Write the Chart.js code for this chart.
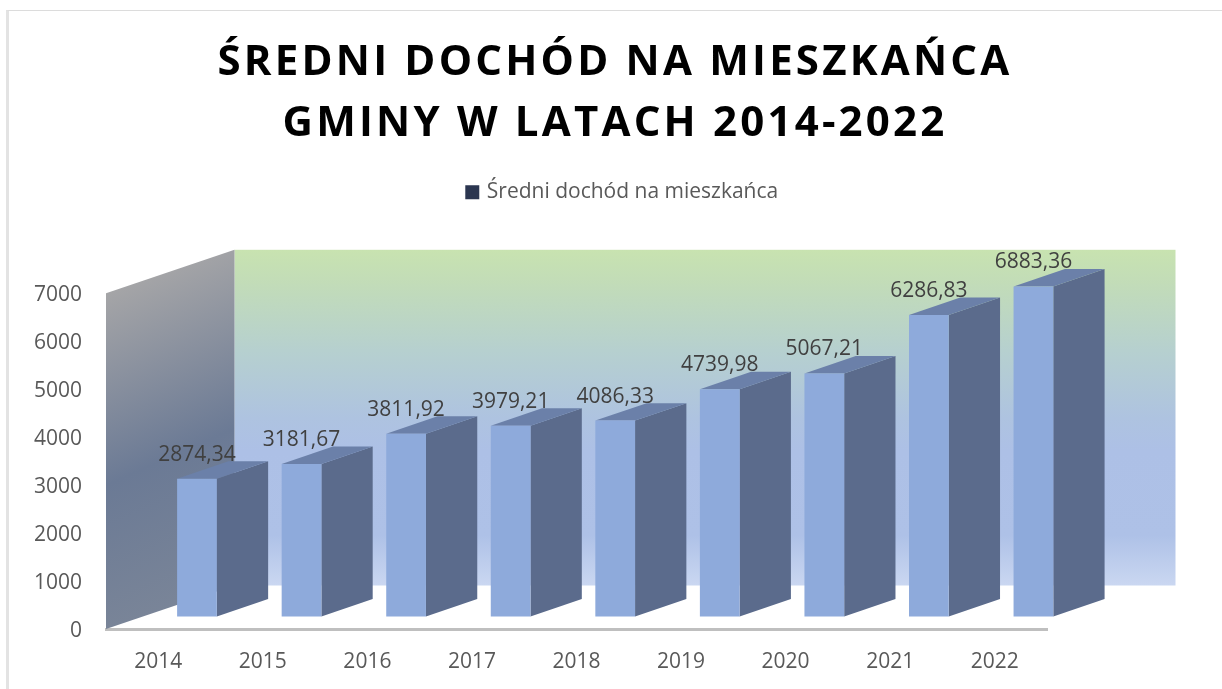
<!DOCTYPE html>
<html><head><meta charset="utf-8">
<style>html,body{margin:0;padding:0;background:#fff}
#f{position:absolute;left:6px;top:10px;right:0;bottom:0;border-left:3px solid #e3e3e3;border-top:1px solid #dcdcdc}
#w{position:absolute;left:0;top:0;width:1222px;height:689px}</style>
<script src="https://cdn.jsdelivr.net/npm/chart.js@4"></script></head>
<body><div id="f"></div><div id="w"><canvas id="c" width="1222" height="689"></canvas></div>
<script>
const categories = ['2014','2015','2016','2017','2018','2019','2020','2021','2022'];
const seriesName = 'Średni dochód na mieszkańca';
const seriesValues = [2874.34,3181.67,3811.92,3979.21,4086.33,4739.98,5067.21,6286.83,6883.36];
const valueLabels = ['2874,34','3181,67','3811,92','3979,21','4086,33','4739,98','5067,21','6286,83','6883,36'];
const titleLines = ['ŚREDNI DOCHÓD NA MIESZKAŃCA','GMINY W LATACH 2014-2022'];
const yTicks = [0,1000,2000,3000,4000,5000,6000,7000];

const FRONT='#8eaadb', SIDE='#5b6b8c', TOP='#6b80a9', LEGEND='#2b3650';
const BAR_DX=38.7, BAR_DY=-12.5, DEPTH_X=51.3, DEPTH_Y=-17.4, WALL_X=128.5, WALL_Y=-43.5;
const FONT='"Open Sans"';

const threeD={
  id:'threeD',
  beforeLayout(chart){
    const lg=chart.legend;
    if(lg&&!lg._tall){
      lg._tall=true;const o=lg.fit;
      lg.fit=function(){o.call(lg);lg.height+=80.5;};
    }
  },
  afterLayout(chart){
    const t=chart.titleBlock;
    t.left=8;t.right=1222;
    const lg=chart.legend;
    lg.left=24.5;lg.right=1222;
    if(!t._spaced){
      t._spaced=true;const o=t.draw;
      t.draw=function(){chart.ctx.letterSpacing='3.2px';o.call(t);chart.ctx.letterSpacing='0px';};
      const y=chart.scales.y, d=y.drawLabels;
      y.drawLabels=function(a){chart.ctx.save();chart.ctx.translate(0,2);d.call(y,a);chart.ctx.restore();};
    }
  },
  beforeDatasetsDraw(chart){
    const {ctx,chartArea:a}=chart;
    ctx.save();
    const bx=a.left+WALL_X, by=a.top+WALL_Y, bb=a.bottom+WALL_Y;
    let g=ctx.createLinearGradient(0,by,0,bb);
    g.addColorStop(0,'#c8e3b0');g.addColorStop(0.1,'#c2dcb8');g.addColorStop(0.3,'#b6d0cf');
    g.addColorStop(0.5,'#aec3e0');g.addColorStop(0.6,'#adc0e6');g.addColorStop(0.85,'#aec1e7');g.addColorStop(1,'#cad7f1');
    ctx.fillStyle=g;ctx.fillRect(bx,by,a.right-a.left,a.bottom-a.top);
    g=ctx.createLinearGradient(a.left,a.top,a.left+WALL_X,a.bottom+WALL_Y);
    g.addColorStop(0,'#a5a5a7');g.addColorStop(0.55,'#6b7a95');g.addColorStop(1,'#7a8598');
    ctx.fillStyle=g;ctx.beginPath();
    ctx.moveTo(a.left,a.top);ctx.lineTo(bx,by);ctx.lineTo(bx,bb);ctx.lineTo(a.left,a.bottom);ctx.closePath();ctx.fill();
    const meta=chart.getDatasetMeta(0);
    meta.data.forEach(b=>{
      const p=b.getProps(['x','y','base','width'],true);
      const r=p.x+p.width/2+BAR_DX, l=p.x-p.width/2+BAR_DX, t=p.y+BAR_DY, bt=p.base+BAR_DY;
      ctx.fillStyle=SIDE;ctx.beginPath();
      ctx.moveTo(r,t);ctx.lineTo(r+DEPTH_X,t+DEPTH_Y);ctx.lineTo(r+DEPTH_X,bt+DEPTH_Y);ctx.lineTo(r,bt);ctx.closePath();ctx.fill();
      ctx.fillStyle=TOP;ctx.beginPath();
      ctx.moveTo(l,t);ctx.lineTo(l+DEPTH_X,t+DEPTH_Y);ctx.lineTo(r+DEPTH_X,t+DEPTH_Y);ctx.lineTo(r,t);ctx.closePath();ctx.fill();
    });
    ctx.restore();
    ctx.save();ctx.translate(BAR_DX,BAR_DY);
  },
  afterDatasetsDraw(chart){
    const {ctx}=chart;
    ctx.restore();
    ctx.save();
    ctx.font='21px '+FONT;ctx.fillStyle='#404040';ctx.textAlign='center';ctx.textBaseline='alphabetic';
    chart.getDatasetMeta(0).data.forEach((b,i)=>{
      const p=b.getProps(['x','y'],true);
      ctx.fillText(valueLabels[i],p.x+BAR_DX,p.y+BAR_DY-18);
    });
    ctx.restore();
  }
};

new Chart(document.getElementById('c'),{
  type:'bar',
  data:{labels:categories,datasets:[{label:seriesName,data:seriesValues,backgroundColor:FRONT,barPercentage:0.38,categoryPercentage:1,clip:false}]},
  plugins:[threeD],
  options:{
    responsive:false,animation:false,
    layout:{padding:{left:30,right:175,top:33,bottom:0}},
    plugins:{
      title:{display:true,text:titleLines,color:'#000',font:{family:FONT,size:42,weight:'bold',lineHeight:1.45},padding:{top:0,bottom:17}},
      legend:{position:'top',labels:{color:'#595959',font:{family:FONT,size:21},boxWidth:8,boxHeight:8,padding:10,
        generateLabels(){return [{text:seriesName,fontColor:'#595959',fillStyle:LEGEND,strokeStyle:LEGEND,lineWidth:6,datasetIndex:0}];}}},
      tooltip:{enabled:false}
    },
    scales:{
      x:{grid:{display:false,drawTicks:false},border:{display:true,color:'#bfbfbf',width:3},
         ticks:{color:'#595959',font:{family:FONT,size:21},padding:20,maxRotation:0},
         afterFit(s){s.height=60;}},
      y:{min:0,max:7000,afterBuildTicks(s){s.ticks=yTicks.map(v=>({value:v}));},
         grid:{display:false,drawTicks:false},border:{display:false},
         ticks:{color:'#595959',font:{family:FONT,size:21},padding:24,crossAlign:'near',callback:v=>String(v)},
         afterFit(s){s.width=76;}}
    }
  }
});
</script></body></html>
